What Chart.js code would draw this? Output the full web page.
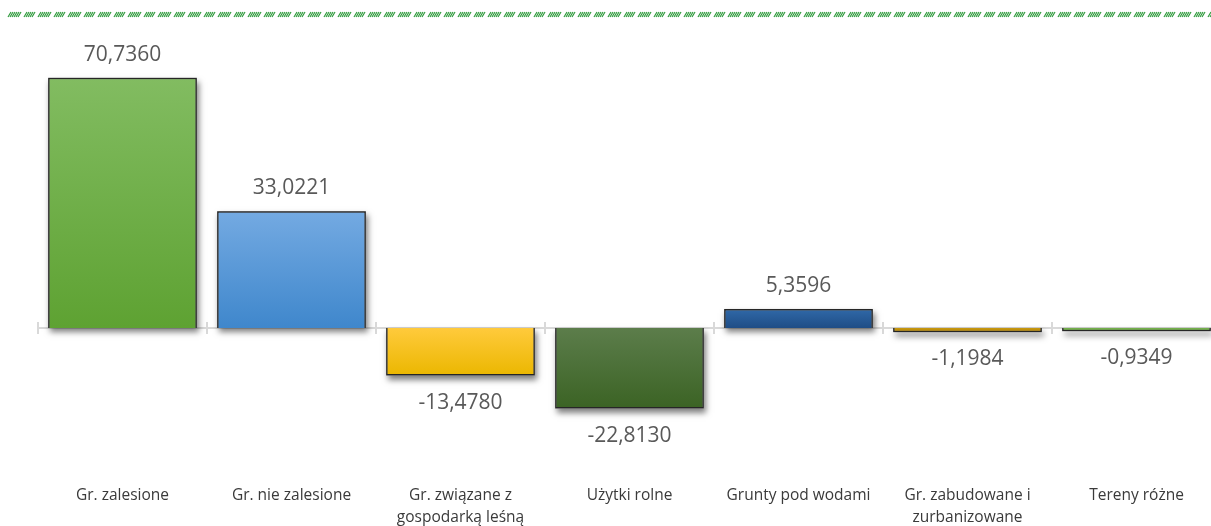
<!DOCTYPE html>
<html>
<head>
<meta charset="utf-8">
<script src="https://cdn.jsdelivr.net/npm/chart.js@4"></script>
<style>
  html, body { margin: 0; padding: 0; background: #fff; overflow: hidden; }
  #wrap { position: relative; width: 1230px; height: 540px; }
</style>
</head>
<body>
<div id="wrap"><canvas id="chart"></canvas></div>
<script>
const categories = [
  'Gr. zalesione',
  'Gr. nie zalesione',
  ['Gr. związane z', 'gospodarką leśną'],
  'Użytki rolne',
  'Grunty pod wodami',
  ['Gr. zabudowane i', 'zurbanizowane'],
  'Tereny różne'
]
const values = [70.7360, 33.0221, -13.4780, -22.8130, 5.3596, -1.1984, -0.9349]

// kolory slupkow (gora -> dol gradientu)
const topColors = ['#82bc61', '#74aae2', '#ffca3c', '#5c7d4b', '#3069a8', '#c99a12', '#76b24e']
const bottomColors = ['#5ea232', '#3f87cc', '#ebb700', '#3b6324', '#1f4d86', '#b07f00', '#64a33a']

const fmtPl = v => v.toFixed(4).replace('.', ',')

const topHatch = {
  id: 'topHatch',
  beforeDraw(chart) {
    const ctx = chart.ctx
    ctx.save()
    ctx.strokeStyle = '#2f9a3c'
    ctx.lineWidth = 1.2
    for (let x = 8; x < 1215; x += 2) {
      if ((x - 8) % 15 >= 11) continue
      ctx.beginPath()
      ctx.moveTo(x, 17)
      ctx.lineTo(x + 3, 12)
      ctx.stroke()
    }
    ctx.restore()
  }
}

const zeroAxis = {
  id: 'zeroAxis',
  beforeDatasetsDraw(chart) {
    const { ctx, chartArea, scales } = chart
    const y0 = scales.y.getPixelForValue(0)
    const step = (chartArea.right - chartArea.left) / categories.length
    ctx.save()
    ctx.strokeStyle = '#d9d9d9'
    ctx.lineWidth = 2
    ctx.beginPath()
    ctx.moveTo(chartArea.left, y0)
    ctx.lineTo(chartArea.right, y0)
    for (let i = 0; i <= categories.length; i++) {
      const x = chartArea.left + i * step
      ctx.moveTo(x, y0 - 6)
      ctx.lineTo(x, y0 + 6)
    }
    ctx.stroke()

    // cienie pod slupkami (BarElement przycina wlasny cien)
    chart.getDatasetMeta(0).data.forEach(bar => {
      const p = bar.getProps(['x', 'y', 'base', 'width'], true)
      const top = Math.min(p.y, p.base), h = Math.abs(p.base - p.y)
      ctx.save()
      ctx.shadowColor = 'rgba(0,0,0,0.5)'
      ctx.shadowBlur = 6
      ctx.shadowOffsetX = 2
      ctx.shadowOffsetY = 4
      ctx.fillStyle = '#888'
      ctx.fillRect(p.x - p.width / 2, top, p.width, Math.max(h, 1))
      ctx.restore()
    })
    ctx.restore()
  }
}

const valueLabels = {
  id: 'valueLabels',
  afterDatasetsDraw(chart) {
    const { ctx } = chart
    const meta = chart.getDatasetMeta(0)
    ctx.save()
    ctx.fillStyle = '#595959'
    ctx.font = '21px "Open Sans"'
    ctx.textAlign = 'center'
    ctx.textBaseline = 'middle'
    meta.data.forEach((bar, i) => {
      const v = values[i]
      const y = v >= 0 ? bar.y - 23 : bar.y + 27
      ctx.fillText(fmtPl(v), bar.x, y)
    })
    ctx.restore()
  }
}

new Chart(document.getElementById('chart'), {
  type: 'bar',
  data: {
    labels: categories,
    datasets: [{
      data: values,
      backgroundColor: c => {
        const chart = c.chart
        if (!chart.chartArea) return bottomColors[c.dataIndex]
        const y = chart.scales.y
        const a = y.getPixelForValue(0)
        const b = y.getPixelForValue(values[c.dataIndex])
        const t = Math.min(a, b), bt = Math.max(a, b)
        const g = chart.ctx.createLinearGradient(0, t, 0, bt + 0.01)
        g.addColorStop(0, topColors[c.dataIndex])
        g.addColorStop(1, bottomColors[c.dataIndex])
        return g
      },
      borderColor: '#262626',
      borderWidth: 1.5,
      barPercentage: 0.88,
      categoryPercentage: 1
    }]
  },
  options: {
    responsive: true,
    maintainAspectRatio: false,
    animation: false,
    layout: { padding: { left: 38, right: 9, top: 45, bottom: 0 } },
    plugins: { legend: { display: false }, tooltip: { enabled: false } },
    scales: {
      y: { display: false, min: -30, max: 80 },
      x: {
        grid: { display: false, drawTicks: false },
        border: { display: false },
        ticks: {
          color: '#3a3a3a',
          font: { family: 'Open Sans', size: 15.5, lineHeight: 1.42 },
          padding: 51,
          maxRotation: 0,
          autoSkip: false
        },
        afterFit(s) {
          s.height = 106
          s.paddingLeft = 0
          s.paddingRight = 0
        }
      }
    }
  },
  plugins: [topHatch, zeroAxis, valueLabels]
})
</script>
</body>
</html>
